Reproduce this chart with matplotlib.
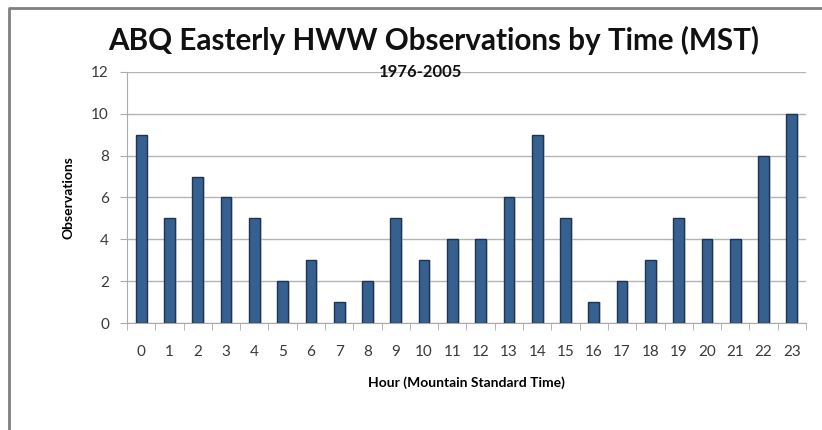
import matplotlib

matplotlib.use("Agg")
import matplotlib.pyplot as plt
from matplotlib.lines import Line2D

# Easterly high-wind-warning observations at ABQ per hour, 1976-2005
hours = list(range(24))
observations = [9, 5, 7, 6, 5, 2, 3, 1, 2, 5, 3, 4, 4, 6, 9, 5, 1, 2, 3, 5, 4, 4, 8, 10]
y_ticks = [0, 2, 4, 6, 8, 10, 12]

plt.rcParams["font.family"] = ["Lato", "DejaVu Sans"]

fig = plt.figure(figsize=(8.22, 4.30), dpi=100)
ax = fig.add_axes([0.1545, 0.2488, 0.826, 0.5838])

width = 0.38
# soft drop shadow behind each bar
ax.bar([h + 0.07 for h in hours], observations, width, color="#c8c8c8",
       alpha=0.6, zorder=2, linewidth=0)
ax.bar(hours, observations, width, color="#36608f", edgecolor="#1d3452",
       linewidth=1.0, zorder=3)

ax.set_xlim(-0.5, 23.5)
ax.set_ylim(0, 12)
ax.set_yticks(y_ticks)
ax.set_xticks(hours)
ax.set_xticks([h - 0.5 for h in hours] + [23.5], minor=True)
ax.tick_params(axis="x", which="major", length=0, pad=16, labelsize=11,
               colors="#3a3a3a")
ax.tick_params(axis="x", which="minor", length=5, color="#aaaaaa",
               direction="out")
ax.tick_params(axis="y", length=5, color="#aaaaaa", pad=8, labelsize=11,
               colors="#3a3a3a")
ax.yaxis.grid(True, color="#b4b4b4", linewidth=1.0, zorder=0)
ax.set_axisbelow(True)
for spine in ("top", "right"):
    ax.spines[spine].set_visible(False)
for spine in ("left", "bottom"):
    ax.spines[spine].set_color("#aaaaaa")

ax.set_ylabel("Observations", fontsize=10, fontweight="bold", labelpad=12)
ax.set_xlabel("Hour (Mountain Standard Time)", fontsize=10, fontweight="bold",
              labelpad=12)

fig.text(0.527, 0.905, "ABQ Easterly HWW Observations by Time (MST)",
         ha="center", va="center", fontsize=21.3, fontweight="bold",
         color="#111111")
fig.text(0.512, 0.832, "1976-2005", ha="center", va="center", fontsize=12,
         fontweight="bold", color="#111111")

# frame line along the top and left edges
fig.add_artist(Line2D([0.011, 0.011, 1.0], [0.0, 0.981, 0.981],
                      transform=fig.transFigure, color="#808080",
                      linewidth=2.0))

fig.savefig("out.png", dpi=100, facecolor="white")
